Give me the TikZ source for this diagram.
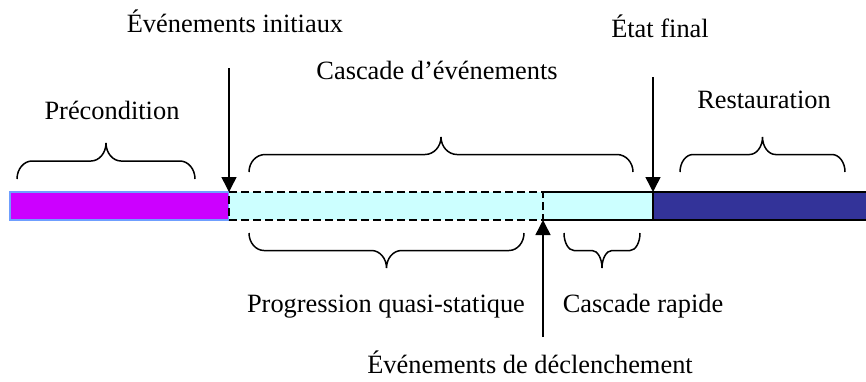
\documentclass[tikz,border=0pt]{standalone}
\usepackage{fontspec}
\setmainfont{Liberation Serif}
\usetikzlibrary{positioning,arrows.meta}

\definecolor{precol}{HTML}{CC00FF}
\definecolor{precbord}{HTML}{6F9FFF}
\definecolor{cascol}{HTML}{CCFFFF}
\definecolor{restcol}{HTML}{333399}

\tikzset{
  segment/.style={rectangle, minimum height=28pt, inner sep=0pt, outer sep=0pt,
    anchor=north west, line width=1.5pt},
  etiquette/.style={anchor=base, inner sep=0pt, font=\fontsize{26.4}{30}\selectfont},
  evt/.style={line width=1.5pt, -{Triangle[width=15pt,length=15pt]}},
  accol/.style={line width=1.5pt}
}

% accolade : gauche, droite, base, demi-hauteur, rayon
\newcommand{\accolade}[5]{%
  \pgfmathsetmacro\accM{(#1+#2)/2}%
  \pgfmathsetmacro\accF{#3+(#4)}%
  \pgfmathsetmacro\accT{#3+2*(#4)}%
  \pgfmathsetmacro\accA{#3+0.55*(#4)}% controle des bouts
  \pgfmathsetmacro\accB{#3+1.45*(#4)}% controle de la pointe
  \pgfmathsetmacro\accR{0.45*#5}%
  \draw[accol] (#1,#3) .. controls (#1,\accA) and (#1+\accR,\accF) .. (#1+#5,\accF)
    -- (\accM-#5,\accF)
    .. controls (\accM-\accR,\accF) and (\accM,\accB) .. (\accM,\accT)
    .. controls (\accM,\accB) and (\accM+\accR,\accF) .. (\accM+#5,\accF)
    -- (#2-#5,\accF)
    .. controls (#2-\accR,\accF) and (#2,\accA) .. (#2,#3);}

\begin{document}
\begin{tikzpicture}[x=1pt, y=-1pt]
\useasboundingbox (0,0) rectangle (866,381);

% la barre du temps
\node[segment, fill=precol, draw=precbord, line width=1.2pt, minimum width=219pt] (precond) at (10,192) {};
\node[segment, fill=cascol, minimum width=110pt] (rapide) at (543,192) {};
\draw[line width=1.5pt] (rapide.north west) -- (rapide.north east) -- (rapide.south east) -- (rapide.south west);
\node[segment, fill=cascol, draw, dash pattern=on 8pt off 4pt, minimum width=314pt] (quasi) at (229,192) {};
\node[segment, fill=restcol, draw, minimum width=217pt] (restau) at (653,192) {};

% evenements
\coordinate (initHaut) at (229,68);
\coordinate (finalHaut) at (653,77);
\coordinate (declBas) at (543,337);
\draw[evt] (initHaut) -- (quasi.north west);
\draw[evt] (finalHaut) -- (restau.north west);
\draw[evt] (declBas) -- (rapide.south west);

% accolades
\accolade{17}{195}{179}{-18}{15}
\accolade{249}{633}{172}{-17.5}{16}
\accolade{680}{845}{172}{-17.5}{13}
\accolade{249}{524}{233}{17.5}{15}
\accolade{564}{640}{233}{17.5}{10}

% textes
\node[etiquette] (initTxt) at (235,32) {Événements initiaux};
\node[etiquette] (precTxt) at (112,119) {Précondition};
\node[etiquette] (cascTxt) at (437,79) {Cascade d’événements};
\node[etiquette] (finalTxt) at (660,37) {État final};
\node[etiquette] (restTxt) at (764,108) {Restauration};
\node[etiquette] (progTxt) at (386,312) {Progression quasi-statique};
\node[etiquette] (rapTxt) at (643,312) {Cascade rapide};
\node[etiquette] (declTxt) at (530,373) {Événements de déclenchement};
\end{tikzpicture}
\end{document}
